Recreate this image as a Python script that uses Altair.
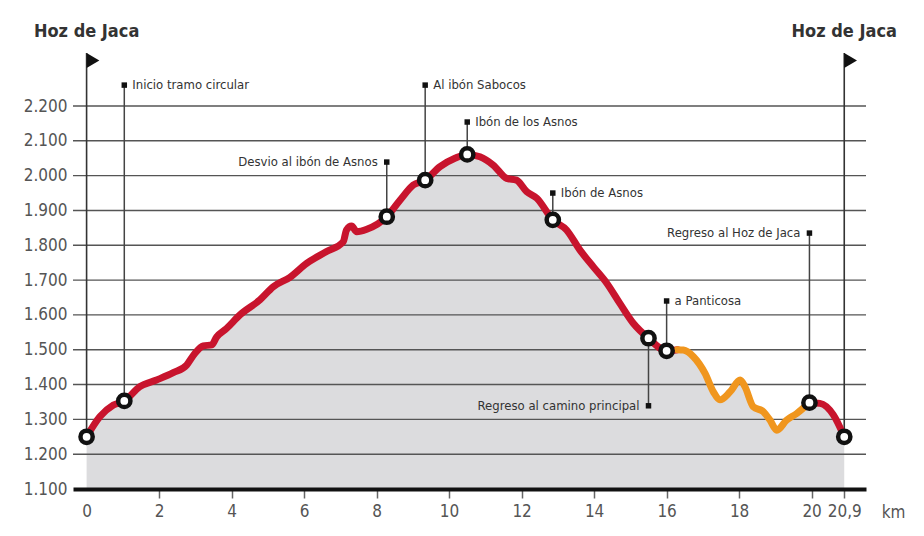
import altair as alt
import pandas as pd

FONT = "Liberation Sans Narrow, DejaVu Sans Condensed, Arial Narrow, sans-serif"

# ---- elevation profile (km, m) by segment ----
red1_km = [0, 0.37, 0.74, 1.04, 1.47, 1.93, 2.39, 2.76, 2.99, 3.22, 3.45, 3.59, 3.86,
           4.23, 4.78, 5.15, 5.61, 6.07, 6.62, 7.08, 7.17, 7.31, 7.45, 7.73, 8.28, 8.65,
           9.01, 9.34, 9.75, 10.16, 10.5, 10.85, 11.22, 11.59, 11.86, 12.14, 12.42, 12.86,
           13.24, 13.61, 13.98, 14.35, 14.71, 15.08, 15.5, 16.0, 16.3]
red1_el = [1250, 1308, 1341, 1353, 1394, 1413, 1434, 1456, 1490, 1511, 1514, 1537, 1561,
           1600, 1643, 1681, 1708, 1748, 1782, 1810, 1844, 1855, 1839, 1846, 1882, 1930,
           1973, 1987, 2026, 2050, 2061, 2054, 2030, 1992, 1987, 1954, 1935, 1873,
           1844, 1786, 1738, 1691, 1633, 1576, 1533, 1497, 1500]
orange_km = [16.3, 16.46, 16.74, 17.06, 17.29, 17.47, 17.75, 18.03, 18.16, 18.39, 18.67,
             18.85, 19.04, 19.31, 19.59, 19.94]
orange_el = [1500, 1499, 1480, 1432, 1379, 1356, 1379, 1413, 1394, 1336, 1322,
             1298, 1269, 1298, 1317, 1348]
red2_km = [19.94, 20.23, 20.6, 20.9]
red2_el = [1348, 1346, 1313, 1250]

RED = "#c8142d"
ORANGE = "#f0961e"

# ---- waypoints ----
wp_km = [0, 1.04, 8.28, 9.34, 10.5, 12.86, 15.5, 16.0, 19.94, 20.9]
wp_el = [1250, 1353, 1882, 1987, 2061, 1873, 1533, 1497, 1348, 1250]

# ---- annotations: waypoint km, waypoint elev, label elev, text, side ----
ann_km = [1.04, 8.28, 9.34, 10.5, 12.86, 15.5, 16.0, 19.94]
ann_el = [1353, 1882, 1987, 2061, 1873, 1533, 1497, 1348]
ann_tip = [2260, 2039, 2260, 2154, 1950, 1339, 1640, 1835]
ann_text = ["Inicio tramo circular", "Desvio al ibón de Asnos", "Al ibón Sabocos",
            "Ibón de los Asnos", "Ibón de Asnos", "Regreso al camino principal",
            "a Panticosa", "Regreso al Hoz de Jaca"]
ann_side = ["L", "R", "L", "L", "L", "R", "L", "R"]

# ---- start / end flags ----
flag_km = [0, 20.9]
flag_el = [1250, 1250]
flag_tip = [2352, 2352]
flag_title_el = [2412, 2412]
flag_text = ["Hoz de Jaca", "Hoz de Jaca"]

# ---- axes ----
YTICKS = [1100, 1200, 1300, 1400, 1500, 1600, 1700, 1800, 1900, 2000, 2100, 2200]
XTICKS = [0, 2, 4, 6, 8, 10, 12, 14, 16, 18, 20, 20.9]
GRID = YTICKS[1:]

rows = []
for seg, kms, els, col in [("a", red1_km, red1_el, RED), ("b", orange_km, orange_el, ORANGE),
                           ("c", red2_km, red2_el, RED)]:
    for k, e in zip(kms, els):
        rows.append({"km": k, "elev": e, "seg": seg, "col": col})
prof = pd.DataFrame(rows)
area_df = prof.drop_duplicates(subset=["km"]).sort_values("km")

wp = pd.DataFrame({"km": wp_km, "elev": wp_el})
ann = pd.DataFrame({"km": ann_km, "elev": ann_el, "tip": ann_tip, "text": ann_text, "side": ann_side})
flags = pd.DataFrame({"km": flag_km, "elev": flag_el, "tip": flag_tip, "ttl": flag_title_el, "text": flag_text})
grid = pd.DataFrame({"elev": GRID})

xscale = alt.Scale(domain=[-0.375, 21.5], nice=False, zero=False)
yscale = alt.Scale(domain=[1100, 2200], nice=False, zero=False)

xaxis = alt.Axis(values=XTICKS, title="km",
                 labelExpr="datum.value == 20.9 ? '20,9' : datum.label",
                 domainColor="#111", domainWidth=4, domainCap="butt",
                 tickColor={"condition": {"test": "datum.value == 0", "value": "transparent"}, "value": "#666"},
                 tickWidth=1.5, tickSize=9, labelColor="#555", labelFont=FONT, labelFontSize=17,
                 labelPadding=5, labelOverlap=False, labelFlush=False,
                 titleFont=FONT, titleFontSize=17, titleFontWeight="normal", titleColor="#555",
                 titleX=820, titleY=28, titleAlign="center", titleBaseline="alphabetic",
                 grid=False, zindex=1)
yaxis = alt.Axis(values=YTICKS, title=None,
                 labelExpr="replace(format(datum.value, ','), ',', '.')",
                 domain=False, ticks=False, grid=False, labelColor="#555", labelFont=FONT,
                 labelFontSize=17, labelPadding=6, labelOverlap=False)


def X(f):
    return alt.X(f"{f}:Q", scale=xscale, axis=xaxis)


def Y(f):
    return alt.Y(f"{f}:Q", scale=yscale, axis=yaxis)


area = alt.Chart(area_df).mark_area(color="#dcdcde", interpolate="monotone").encode(
    x=X("km"), y=Y("elev"), y2=alt.datum(1100))

grid_rules = alt.Chart(grid).mark_rule(color="#555", strokeWidth=1.4).encode(y=Y("elev"))

ann_rules = alt.Chart(ann).mark_rule(color="#444", strokeWidth=1.5).encode(
    x=X("km"), y=Y("elev"), y2="tip:Q")
flag_rules = alt.Chart(flags).mark_rule(color="#333", strokeWidth=1.6).encode(
    x=X("km"), y=Y("elev"), y2="tip:Q")

line = alt.Chart(prof).mark_line(strokeWidth=7, strokeCap="round", strokeJoin="round",
                                 interpolate="monotone").encode(
    x=X("km"), y=Y("elev"), detail="seg:N", color=alt.Color("col:N", scale=None))

circles = alt.Chart(wp).mark_point(shape="circle", filled=True, fill="white", stroke="#111",
                                   strokeWidth=4.5, size=150, opacity=1).encode(x=X("km"), y=Y("elev"))

squares = alt.Chart(ann).mark_square(size=30, color="#111", opacity=1).encode(x=X("km"), y=Y("tip"))

flag_marks = alt.Chart(flags).mark_point(shape="M0,0L1.7,1L0,2Z", filled=True, color="#111",
                                         size=225, opacity=1).encode(x=X("km"), y=Y("tip"))

txt_l = alt.Chart(ann).transform_filter(alt.datum.side == "L").mark_text(
    align="left", baseline="middle", dx=8, font=FONT, fontSize=13, color="#333").encode(
    x=X("km"), y=Y("tip"), text="text:N")
txt_r = alt.Chart(ann).transform_filter(alt.datum.side == "R").mark_text(
    align="right", baseline="middle", dx=-9, font=FONT, fontSize=13, color="#333").encode(
    x=X("km"), y=Y("tip"), text="text:N")

titles = alt.Chart(flags).mark_text(align="center", baseline="middle", font=FONT, fontSize=18,
                                    fontWeight="bold", color="#333").encode(
    x=X("km"), y=Y("ttl"), text="text:N")

chart = alt.layer(area, grid_rules, ann_rules, flag_rules, line, circles, squares, flag_marks,
                  txt_l, txt_r, titles).properties(
    width=793, height=383, autosize="none",
    padding={"left": 65, "top": 98, "right": 50, "bottom": 47},
    background="white",
).configure_view(stroke=None)

chart.save("out.html", embed_options={"renderer": "svg", "actions": False})
